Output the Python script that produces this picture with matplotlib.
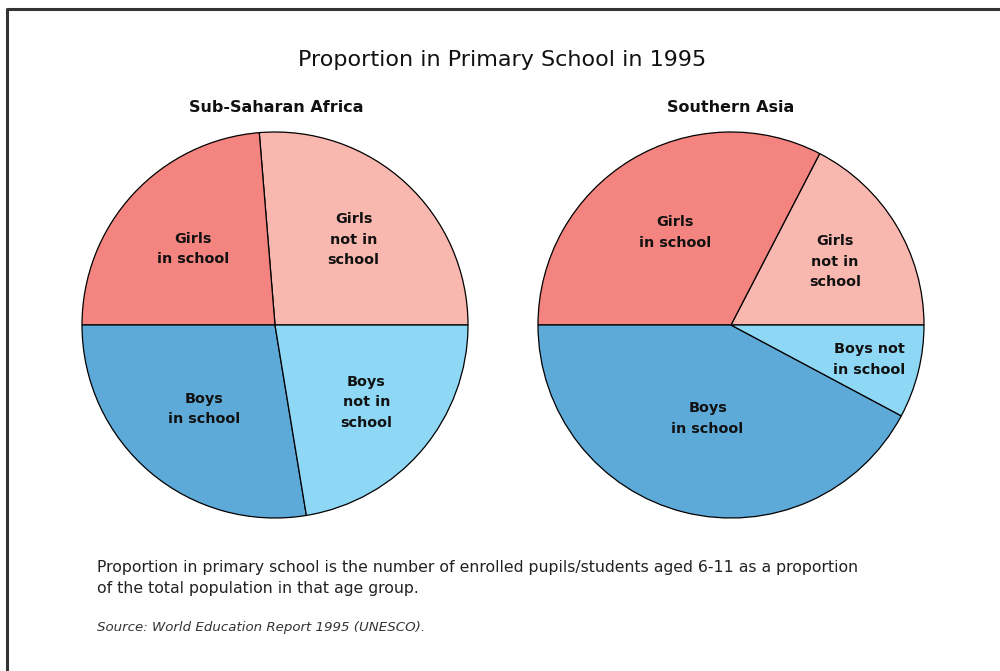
import numpy as np
import matplotlib.pyplot as plt

# данные: доли (в %) -- порядок против часовой стрелки от 0 градусов
labels_ssa = ['Girls\nnot in\nschool', 'Girls\nin school', 'Boys\nin school', 'Boys\nnot in\nschool']
values_ssa = [26.3, 23.7, 27.6, 22.4]
labels_sa = ['Girls\nnot in\nschool', 'Girls\nin school', 'Boys\nin school', 'Boys not\nin school']
values_sa = [17.4, 32.6, 42.2, 7.8]
colors = ['#F9B8AF', '#F4847F', '#5DA9D8', '#8ED8F6']

W, H = 1000, 671
fig = plt.figure(figsize=(W / 100, H / 100), dpi=100)
ax = fig.add_axes([0, 0, 1, 1])

# рамка (левая и верхняя стороны)
ax.plot([7, 7, W + 5], [-5, H - 9, H - 9], color='#333333', lw=2.2, solid_capstyle='butt')

def draw_pie(cx, cy, r, vals, labs, dists):
    wedges, _ = ax.pie(vals, colors=colors, startangle=0, counterclock=True,
                       center=(cx, cy), radius=r, frame=True,
                       wedgeprops=dict(edgecolor='black', linewidth=0.9))
    for w, lab, d in zip(wedges, labs, dists):
        a = np.deg2rad((w.theta1 + w.theta2) / 2)
        ax.text(cx + d * r * np.cos(a), cy + d * r * np.sin(a), lab,
                ha='center', va='center', fontsize=10.4, fontweight='bold',
                color='#111111', linespacing=1.6, family='DejaVu Sans')

draw_pie(275, H - 325, 193, values_ssa, labels_ssa, [0.60, 0.58, 0.57, 0.62])
draw_pie(731, H - 325, 193, values_sa, labels_sa, [0.63, 0.56, 0.50, 0.74])
ax.set_xlim(0, W)
ax.set_ylim(0, H)
ax.set_aspect('equal')
ax.axis('off')

ax.text(502, H - 60, 'Proportion in Primary School in 1995', ha='center', va='center',
        fontsize=16, color='#111111', family='DejaVu Sans')
ax.text(276, H - 107, 'Sub-Saharan Africa', ha='center', va='center',
        fontsize=11.5, fontweight='bold', color='#111111', family='DejaVu Sans')
ax.text(731, H - 107, 'Southern Asia', ha='center', va='center',
        fontsize=11.5, fontweight='bold', color='#111111', family='DejaVu Sans')

ax.text(97, H - 578, 'Proportion in primary school is the number of enrolled pupils/students aged 6-11 as a proportion\n'
        'of the total population in that age group.', ha='left', va='center',
        fontsize=11.3, color='#222222', linespacing=1.45, family='DejaVu Sans')
ax.text(97, H - 628, 'Source: World Education Report 1995 (UNESCO).', ha='left', va='center',
        fontsize=9.65, style='italic', color='#333333', family='DejaVu Sans')

fig.savefig('out.png', dpi=100)
